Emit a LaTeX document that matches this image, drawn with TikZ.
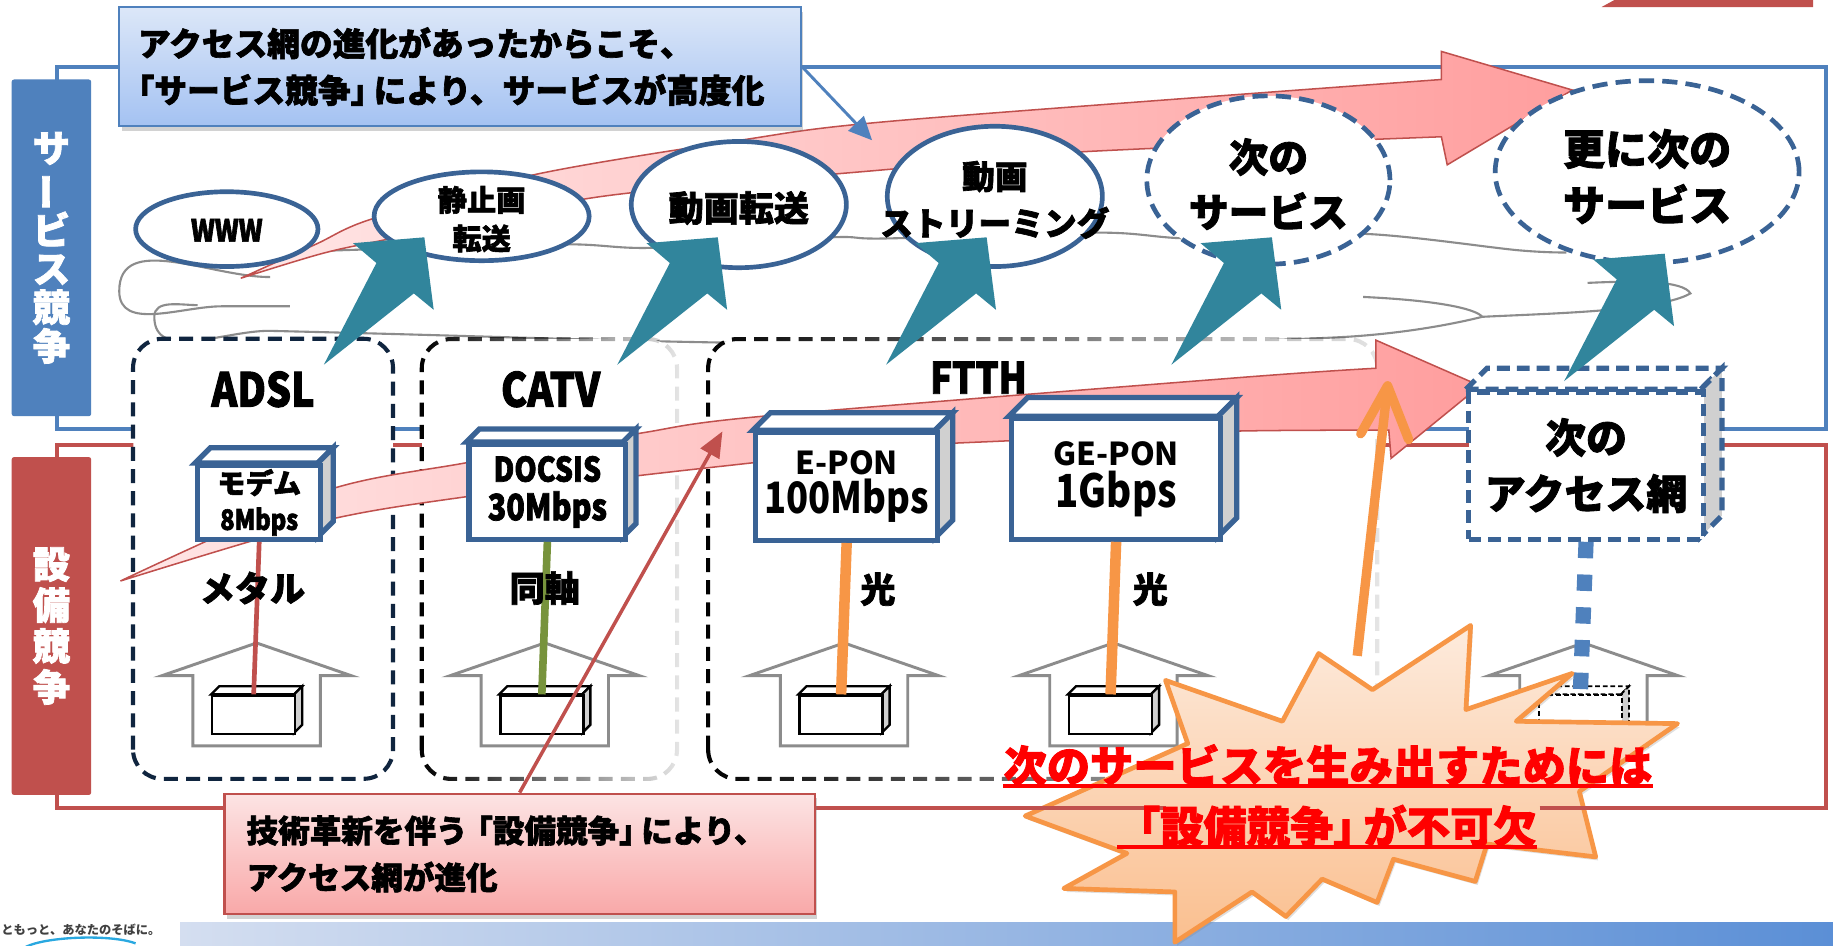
\documentclass[tikz,border=0pt]{standalone}
\usepackage{fontspec}
\newfontfamily\jp{Noto Sans CJK JP}
\newfontfamily\jpb{Noto Sans CJK JP}[FakeBold=2]
\newfontfamily\jpbc{Noto Sans CJK JP}[FakeStretch=0.84, FakeBold=2]
\newfontfamily\jpc{Noto Sans CJK JP}[FakeStretch=0.84]
\usetikzlibrary{shapes.geometric,arrows.meta,shadows,fadings}
\newcommand\fsz[2]{\fontsize{#1}{#2}\selectfont}

\definecolor{frameblue}{HTML}{4F81BD}
\definecolor{framered}{HTML}{C0504D}
\definecolor{svcblue}{HTML}{3A6395}
\definecolor{cubeblue}{HTML}{3A6395}
\definecolor{navy}{HTML}{10253F}
\definecolor{tealarr}{HTML}{31859C}
\definecolor{pinkL}{HTML}{FFE6E6}
\definecolor{pinkR}{HTML}{FF9E9E}
\definecolor{orng}{HTML}{F79646}
\definecolor{grn}{HTML}{77933C}
\definecolor{housegray}{HTML}{8C8C8C}
\definecolor{sidegray}{HTML}{D0D0D0}
\definecolor{cloudgray}{HTML}{8C8C8C}
\definecolor{cTop}{HTML}{DCE7F8}
\definecolor{cBot}{HTML}{A4C2F2}
\definecolor{rTop}{HTML}{FCE4E4}
\definecolor{rBot}{HTML}{F9A8A8}
\definecolor{burstTop}{HTML}{FDEBDD}
\definecolor{burstBot}{HTML}{FABF8F}
\definecolor{barL}{HTML}{D4DEF0}
\definecolor{barR}{HTML}{5B8FD6}
\definecolor{txtred}{HTML}{FF0000}
\definecolor{logocyan}{HTML}{29A8E0}

\tikzfading[name=fadeR, left color=transparent!0, right color=transparent!90]

\tikzset{
  svc/.style={ellipse, draw=svcblue, line width=4pt, fill=white, inner sep=0pt},
  svcdashed/.style={svc, dash pattern=on 13pt off 7pt},
  svctext/.style={inner sep=0pt, align=center, text=black},
  cubeedge/.style={draw=cubeblue, line width=4.5pt},
  cubenext/.style={draw=cubeblue, line width=4.5pt, dash pattern=on 11pt off 6pt},
  minibox/.style={draw=black, line width=2pt},
  miniboxdash/.style={draw=black, line width=1.6pt, dash pattern=on 4pt off 2.5pt},
  accfill/.style={rectangle, rounded corners=25pt, fill=white, inner sep=0pt},
  accdash/.style={line width=3.5pt, dash pattern=on 12pt off 7pt, rounded corners=25pt},
  netlabel/.style={font=\jpbc\bfseries\fsz{40}{40}, inner sep=0pt},
  medlabel/.style={font=\jpb\bfseries\fsz{30}{30}, inner sep=0pt},
  houseline/.style={draw=housegray, line width=2.5pt, fill=white},
  pinkarrow/.style={left color=pinkL, right color=pinkR, draw=framered, line width=1.3pt},
  feed/.style={line width=#1},
  bursttext/.style={font=\jpb\bfseries\fsz{37}{37}, text=txtred, inner sep=0pt, anchor=base},
}

% #1 name, #2 left, #3 top, #4 width, #5 height, #6 depth, #7 edge style, #8 font, #9 text
\newcommand\cubebox[9]{%
  \path[#7, fill=white] (#2,#3) -- (#2+#6,#3-#6) -- (#2+#4+#6,#3-#6) -- (#2+#4,#3) -- cycle;
  \path[#7, fill=sidegray] (#2+#4,#3) -- (#2+#4+#6,#3-#6) -- (#2+#4+#6,#3+#5-#6) -- (#2+#4,#3+#5) -- cycle;
  \node[#7, fill=white, anchor=north west, minimum width=#4pt, minimum height=#5pt,
        inner sep=0pt, align=center, font=#8] (#1) at (#2,#3) {#9};}

% #1 name of the set-top box, #2 centre x, #3 box style
\newcommand\housebox[3]{%
  \path[houseline] (#2,550) -- (#2+81,578) -- (#2+54.5,578) -- (#2+54.5,638)
     -- (#2-54.5,638) -- (#2-54.5,578) -- (#2-81,578) -- cycle;
  \cubebox{#1}{#2-39}{594}{71}{33}{7}{#3}{\jp}{}}

% #1 name of the tip, #2 #3 tip position
\newcommand\tealarrow[3]{%
  \fill[tealarr] (#2-61,#3+5) -- (#2,#3) coordinate (#1) -- (#2+8,#3+62) -- (#2-9,#3+48)
     -- (#2-86,#3+109) -- (#2-41,#3+22) -- cycle;}

\begin{document}
\begin{tikzpicture}[x=1pt,y=-1pt]
\useasboundingbox (0,0) rectangle (1568,809);
\fill[white] (0,0) rectangle (1568,809);

% corner tab and footer
\fill[framered] (1370,6) -- (1381,0) -- (1551,0) -- (1551,6) -- cycle;
\shade[left color=barL, right color=barR] (154,789) rectangle (1568,809);
\node[anchor=west, inner sep=0pt, font=\jp\bfseries\fsz{10.5}{10.5}, text=black!75] (slogan) at (1,795) {ともっと、あなたのそばに。};
\draw[logocyan, line width=2pt] (22,810) .. controls (40,801) and (95,799) .. (116,807);

% the two competition frames
\draw[frameblue, line width=3.5pt] (49,57) rectangle (1562,367);
\draw[framered, line width=3.5pt] (49,381) rectangle (1562,691);

\node[fill=frameblue, rounded corners=2pt, minimum width=68pt, minimum height=288pt, inner sep=0pt] (svcbar) at (44,212) {};
\node[text=white, font=\jpb\bfseries\fsz{32}{33}, align=center, inner sep=0pt] (svclbl) at (svcbar) {サ\\\rotatebox[origin=c]{90}{ー}\\ビ\\ス\\競\\争};
\node[fill=framered, rounded corners=2pt, minimum width=68pt, minimum height=289pt, inner sep=0pt] (facbar) at (44,535.5) {};
\node[text=white, font=\jpb\bfseries\fsz{32}{35}, align=center, inner sep=0pt] (faclbl) at (facbar) {設\\備\\競\\争};

% cloud swirl behind the services
\begin{scope}[draw=cloudgray, line width=1.8pt]
\draw (231,237) to[out=180,in=90] (102,249) to[out=-90,in=180] (190,262) -- (248,262);
\draw (169,261) to[out=180,in=90] (132,271) to[out=-90,in=180] (230,283)
  .. controls (400,287) and (500,291) .. (616,293)
  .. controls (800,297) and (1050,294) .. (1154,288)
  .. controls (1200,285) and (1240,278) .. (1268,271)
  .. controls (1330,268) and (1420,266) .. (1446,251)
  .. controls (1440,240) and (1400,240) .. (1358,242);
\draw (1166,254) .. controls (1230,257) and (1262,264) .. (1268,271);
\draw plot[smooth, tension=0.5] coordinates {(266,215) (326,213) (484,209) (558,212) (711,203) (757,204) (941,199) (1020,204) (1166,200) (1298,214) (1340,216)};
\end{scope}

% access networks
\node[accfill, minimum width=222pt, minimum height=376pt] (adsl) at (225,478) {};
\draw[accdash, navy] (adsl.south west) rectangle (adsl.north east);
\node[accfill, minimum width=218pt, minimum height=376pt] (catv) at (470,478) {};
\draw[accdash, black, path fading=fadeR] (catv.south west) rectangle (catv.north east);
\node[accfill, minimum width=572pt, minimum height=376pt] (ftth) at (892,478) {};
\draw[accdash, black, path fading=fadeR] (ftth.south west) rectangle (ftth.north east);
\node[netlabel] (adslT) at (225,333) {ADSL};
\node[netlabel] (catvT) at (471,333) {CATV};
\node[netlabel, font=\jpbc\bfseries\fsz{37}{37}] (ftthT) at (837,323) {FTTH};

% evolution arrows
\path[pinkarrow] plot[smooth] coordinates {(206,238) (270,209) (319,187) (459,149) (633,120) (770,103) (1233,68)}
  -- (1233,44) -- (1345,77) -- (1238,141)
  -- plot[smooth] coordinates {(1233,117) (923,130) (770,144) (515,168) (330,205) (275,217) (206,238)} -- cycle;
\path[pinkarrow] plot[smooth] coordinates {(103,497) (275,421) (398,396) (545,371) (653,356) (1060,323) (1177,315)}
  -- (1177,291) -- (1266,330) -- (1190,392)
  -- plot[smooth] coordinates {(1188,368) (1047,369) (864,377) (770,382) (643,396) (545,407) (398,425) (275,446) (103,497)} -- cycle;

% services
\node[svc, minimum width=156pt, minimum height=64pt] (www) at (194,196) {};
\node[svctext, font=\jpbc\bfseries\fsz{26}{26}] (wwwT) at (194,197) {WWW};
\node[svc, minimum width=184pt, minimum height=76pt] (still) at (412,185) {};
\node[svctext, font=\jpb\bfseries\fsz{25}{33}] (stillT) at (412,187.5) {静止画\\転送};
\node[svc, minimum width=184pt, minimum height=108pt] (video) at (632,175) {};
\node[svctext, font=\jpb\bfseries\fsz{30}{30}] (videoT) at (632,178) {動画転送};
\node[svc, minimum width=184pt, minimum height=120pt] (stream) at (851,168) {};
\node[svctext, font=\jpb\bfseries\fsz{28}{40}] (streamT) at (851,171) {動画\\ストリーミング};
\node[svcdashed, minimum width=208pt, minimum height=144pt] (nextsvc) at (1085,154) {};
\node[svctext, font=\jpb\bfseries\fsz{34}{47}] (nextsvcT) at (1085,157.5) {次の\\サービス};
\node[svcdashed, minimum width=260pt, minimum height=156pt] (further) at (1409,147) {};
\node[svctext, font=\jpb\bfseries\fsz{36}{48}] (furtherT) at (1409,151) {更に次の\\サービス};

% homes
\housebox{hb1}{219.5}{minibox}
\housebox{hb2}{466}{minibox}
\housebox{hb3}{722}{minibox}
\housebox{hb4}{952.5}{minibox}
\housebox{hb5}{1354.5}{miniboxdash}

% access equipment
\cubebox{modem}{167}{396}{105}{63}{13}{cubeedge}{\jpb\bfseries\fsz{24}{31}}{モデム\\{\jpbc 8Mbps}}
\cubebox{docsis}{399}{378}{134}{81}{11}{cubeedge}{\jpbc\bfseries\fsz{29}{33}}{DOCSIS\\{\fsz{31}{33}30Mbps}}
\cubebox{epon}{644}{368}{156}{92}{15}{cubeedge}{\jp\bfseries\fsz{27}{34}}{E-PON\\{\jpc\fsz{37}{34}100Mbps}}
\cubebox{gepon}{863}{356}{179}{103}{16}{cubeedge}{\jp\bfseries\fsz{27}{36}}{GE-PON\\{\jpc\fsz{39}{36}1Gbps}}
\cubebox{nextnet}{1254}{333}{201}{126}{18}{cubenext}{\jpb\bfseries\fsz{35}{48}}{次の\\アクセス網}

% drop lines
\draw[framered, feed=4pt] (modem.south) -- (hb1.north);
\draw[grn, feed=6.5pt] (docsis.south) -- (hb2.north);
\draw[orng, feed=9pt] (epon.south) -- (hb3.north);
\draw[orng, feed=9pt] (gepon.south) -- (hb4.north);
\draw[frameblue, feed=13pt, dash pattern=on 14pt off 14pt] (nextnet.south) -- (hb5.north);

\node[medlabel] (metal) at (216,503) {メタル};
\node[medlabel] (coax) at (466,503) {同軸};
\node[medlabel] (fiber1) at (751,504) {光};
\node[medlabel] (fiber2) at (984,504) {光};

% access networks enabling services
\tealarrow{ta1}{363}{203}
\tealarrow{ta2}{614}{203}
\tealarrow{ta3}{844}{203}
\tealarrow{ta4}{1088}{203}
\tealarrow{ta5}{1424}{217}

% callouts
\node[draw=frameblue, line width=2pt, top color=cTop, bottom color=cBot, text width=551pt, inner xsep=16pt,
      minimum height=102pt, align=left, font=\jpb\bfseries\fsz{28}{40},
      drop shadow={opacity=0.35, shadow xshift=2pt, shadow yshift=-4pt}] (co1) at (393.5,57)
  {アクセス網の進化があったからこそ、\\\hspace*{-0.5em}「サービス競争」\hspace{-0.3em}により、サービスが高度化};
\coordinate (ptr1) at (746,120);
\draw[frameblue, line width=2.5pt, -{Triangle[length=20pt,width=18pt]}] (co1.east) -- (ptr1);

\node[draw=framered, line width=2pt, top color=rTop, bottom color=rBot, text width=467pt, inner xsep=19pt,
      minimum height=103pt, align=left, font=\jpb\bfseries\fsz{27}{40},
      drop shadow={opacity=0.35, shadow xshift=2pt, shadow yshift=-4pt}] (co2) at (444.5,730.5)
  {技術革新を伴う\hspace{-0.2em}「設備競争」\hspace{-0.3em}により、\\アクセス網が進化};
\coordinate (ptr2) at (618,369);
\draw[framered, line width=3pt, -{Triangle[length=22pt,width=18pt]}] (co2.north) -- (ptr2);

% demand for the next network
\coordinate (oaTail) at (1161,561);
\coordinate (oaTip) at (1187,330);
\draw[orng, line width=8pt] (oaTail) -- (oaTip);
\draw[orng, line width=8pt, line join=round, line cap=round] (1164,371) -- (oaTip) -- (1205,376);

\path[draw=orng, line width=4pt, line join=round, top color=burstTop, bottom color=burstBot,
      drop shadow={opacity=0.25, shadow xshift=2pt, shadow yshift=-3pt}]
  (997,582) -- (1016,636) -- (877,698) -- (964,730) -- (910,760) -- (1005,763) -- (1005,806)
  -- (1071,763) -- (1100,784) -- (1131,752) -- (1178,772) -- (1192,735) -- (1262,754)
  -- (1272,722) -- (1365,733) -- (1351,677) -- (1435,619) -- (1297,617) -- (1345,576)
  -- (1254,607) -- (1258,535) -- (1174,590) -- (1128,559) -- (1097,617) -- cycle;
\draw[framered, line width=3.5pt] (840,691) -- (997,691);
\draw[framered, line width=3.5pt] (1317,691) -- (1562,691);

\node[bursttext] (bt1) at (1136,669) {次のサービスを生み出すためには};
\node[bursttext] (bt2) at (1135,721) {「設備競争」\hspace{-0.3em}が不可欠};
\draw[txtred, line width=3pt] ([yshift=-3.5pt]bt1.base west) -- ([yshift=-3.5pt]bt1.base east);
\draw[txtred, line width=3pt] ([yshift=-3.5pt]bt2.base west) -- ([yshift=-3.5pt]bt2.base east);
\end{tikzpicture}
\end{document}
